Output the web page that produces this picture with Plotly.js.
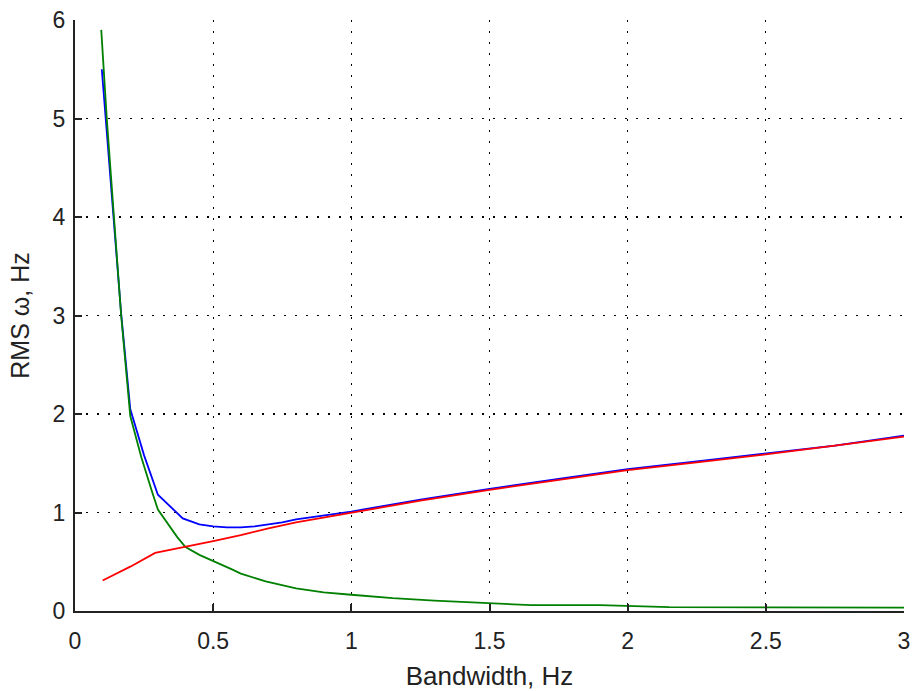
<!DOCTYPE html>
<html>
<head>
<meta charset="utf-8">
<script src="https://cdn.plot.ly/plotly-3.0.1.min.js"></script>
<style>html,body{margin:0;padding:0;background:#fff;}#chart{width:914px;height:691px;}</style>
</head>
<body>
<div id="chart"></div>
<script>
// Blue: total RMS
var blueX = [0.097, 0.111, 0.139, 0.167, 0.2, 0.25, 0.3, 0.35, 0.39, 0.45, 0.5, 0.55, 0.6, 0.65, 0.7, 0.75, 0.8, 0.85, 0.9, 1.0, 1.25, 1.5, 1.75, 2.0, 2.25, 2.5, 2.75, 3.0];
var blueY = [5.5, 5.0, 4.0, 3.02, 2.05, 1.58, 1.18, 1.05, 0.94, 0.88, 0.86, 0.85, 0.85, 0.86, 0.88, 0.9, 0.93, 0.95, 0.97, 1.01, 1.13, 1.24, 1.34, 1.44, 1.52, 1.6, 1.68, 1.78];
// Green: decaying component
var greenX = [0.095, 0.115, 0.141, 0.167, 0.2, 0.24, 0.28, 0.3, 0.37, 0.4, 0.45, 0.5, 0.57, 0.6, 0.69, 0.8, 0.9, 1.0, 1.15, 1.3, 1.5, 1.65, 1.9, 2.15, 2.5, 3.0];
var greenY = [5.9, 5.0, 4.0, 3.0, 1.98, 1.56, 1.2, 1.03, 0.75, 0.65, 0.57, 0.51, 0.42, 0.38, 0.3, 0.23, 0.19, 0.165, 0.13, 0.105, 0.08, 0.06, 0.06, 0.04, 0.037, 0.035];
// Red: rising component
var redX = [0.1, 0.2, 0.29, 0.4, 0.5, 0.6, 0.7, 0.8, 0.9, 1.0, 1.25, 1.5, 1.75, 2.0, 2.25, 2.5, 2.75, 3.0];
var redY = [0.31, 0.45, 0.59, 0.65, 0.71, 0.77, 0.84, 0.9, 0.95, 1.0, 1.12, 1.23, 1.33, 1.43, 1.51, 1.59, 1.68, 1.77];

var xTicks = [0, 0.5, 1, 1.5, 2, 2.5, 3];
var xTickText = ['0', '0.5', '1', '1.5', '2', '2.5', '3'];
var yTicks = [0, 1, 2, 3, 4, 5, 6];
var yTickText = ['0', '1', '2', '3', '4', '5', '6'];

var traces = [
  {x: blueX, y: blueY, mode: 'lines', line: {color: '#0000ff', width: 1.8}, hoverinfo: 'skip'},
  {x: greenX, y: greenY, mode: 'lines', line: {color: '#008000', width: 1.8}, hoverinfo: 'skip'},
  {x: redX, y: redY, mode: 'lines', line: {color: '#ff0000', width: 1.8}, hoverinfo: 'skip'}
];

var fontFam = 'Liberation Sans, Arial, sans-serif';
var layout = {
  width: 914, height: 691,
  margin: {l: 75, r: 10, t: 20, b: 80},
  paper_bgcolor: '#ffffff', plot_bgcolor: '#ffffff',
  showlegend: false,
  font: {family: fontFam, size: 23, color: '#222'},
  xaxis: {
    range: [0, 3], tickvals: xTicks, ticktext: xTickText,
    showline: true, linecolor: '#222', linewidth: 2,
    ticks: 'inside', ticklen: 7, tickwidth: 2, tickcolor: '#222',
    showgrid: true, gridcolor: '#000', gridwidth: 1.3, griddash: '2px,9px',
    zeroline: false, fixedrange: true, automargin: false,
    tickfont: {size: 23}, ticklabelstandoff: 8,
    title: {text: 'Bandwidth, Hz', font: {size: 26}, standoff: 14}
  },
  yaxis: {
    range: [0, 6], tickvals: yTicks, ticktext: yTickText,
    showline: true, linecolor: '#222', linewidth: 2,
    ticks: 'inside', ticklen: 7, tickwidth: 2, tickcolor: '#222',
    showgrid: true, gridcolor: '#000', gridwidth: 1.3, griddash: '2px,9px',
    zeroline: false, fixedrange: true, automargin: false,
    tickfont: {size: 23}, ticklabelstandoff: 3,
    title: {text: 'RMS ω, Hz', font: {size: 25}, standoff: 16}
  }
};

Plotly.newPlot('chart', traces, layout, {staticPlot: true, displayModeBar: false});
</script>
</body>
</html>
